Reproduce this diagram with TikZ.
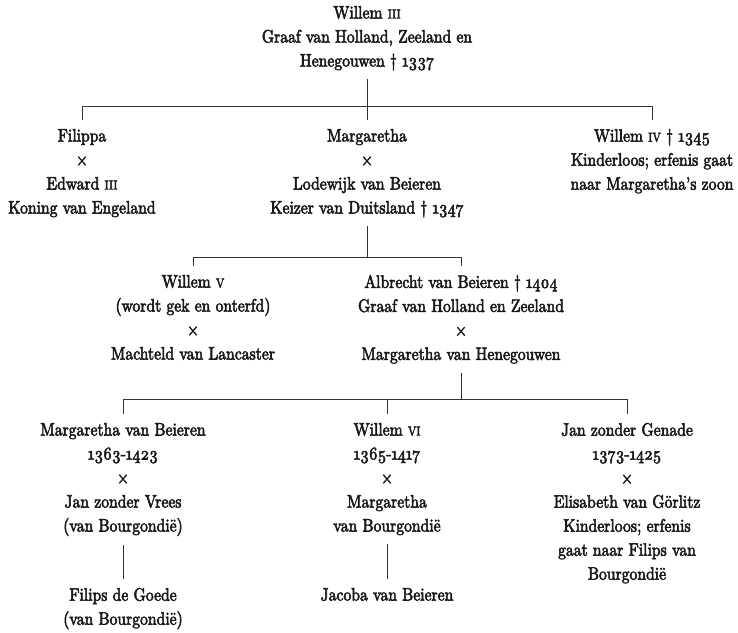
\documentclass[tikz,border=0pt]{standalone}
\usepackage{fontspec}
\usepackage{graphicx}
\setmainfont{lmroman10-regular.otf}[FakeStretch=0.87, FakeBold=3, Numbers=OldStyle]
\newcommand{\rnum}[1]{{\fontsize{13}{24}\selectfont #1}}
\tikzset{
  person/.style={align=center, anchor=north, inner xsep=0pt, inner ysep=9pt,
    outer sep=0pt, font=\fontsize{18}{24}\selectfont, text=black!90},
  link/.style={draw=black!80, line width=0.9pt}
}
\begin{document}
\begin{tikzpicture}[x=1pt, y=-1pt]
\fill[white] (0,0) rectangle (738,632);
\useasboundingbox (0,0) rectangle (738,632);

\node[person] (top) at (367,-3) {Willem \rnum{III}\\Graaf van Holland, Zeeland en\\Henegouwen † 1337};

\node[person] (fil) at (82,120) {Filippa\\×\\Edward \rnum{III}\\Koning van Engeland};
\node[person] (mar) at (367,120) {Margaretha\\×\\Lodewijk van Beieren\\Keizer van Duitsland † 1347};
\node[person] (w4) at (652,120) {Willem \rnum{IV} † 1345\\Kinderloos; erfenis gaat\\naar Margaretha’s zoon};

\node[person] (w5) at (193,266) {Willem \rnum{V}\\(wordt gek en onterfd)\\×\\Machteld van Lancaster};
\node[person] (alb) at (461,266) {Albrecht van Beieren † 1404\\Graaf van Holland en Zeeland\\×\\Margaretha van Henegouwen};

\node[person] (mvb) at (123,414) {Margaretha van Beieren\\1363-1423\\×\\Jan zonder Vrees\\(van Bourgondië)};
\node[person] (w6) at (387,414) {Willem \rnum{VI}\\1365-1417\\×\\Margaretha\\van Bourgondië};
\node[person] (jzg) at (627,414) {Jan zonder Genade\\1373-1425\\×\\Elisabeth van Görlitz\\Kinderloos; erfenis\\gaat naar Filips van\\Bourgondië};

\node[person] (fdg) at (123,579) {Filips de Goede\\(van Bourgondië)};
\node[person] (jac) at (387,579) {Jacoba van Beieren};

\coordinate (h1) at (367,106);
\coordinate (h2) at (367,257);
\coordinate (h3) at (461,399);

\draw[link] (top.south) -- (h1);
\draw[link] (fil.north) -- (fil.north |- h1) -- (w4.north |- h1) -- (w4.north);
\draw[link] (mar.north) -- (h1);
\draw[link] (mar.south) -- (h2);
\draw[link] (w5.north) -- (w5.north |- h2) -- (alb.north |- h2) -- (alb.north);
\draw[link] (alb.south) -- (h3);
\draw[link] (mvb.north) -- (mvb.north |- h3) -- (jzg.north |- h3) -- (jzg.north);
\draw[link] (w6.north) -- (w6.north |- h3);
\draw[link] (mvb.south) -- (fdg.north);
\draw[link] (w6.south) -- (jac.north);
\end{tikzpicture}
\end{document}
